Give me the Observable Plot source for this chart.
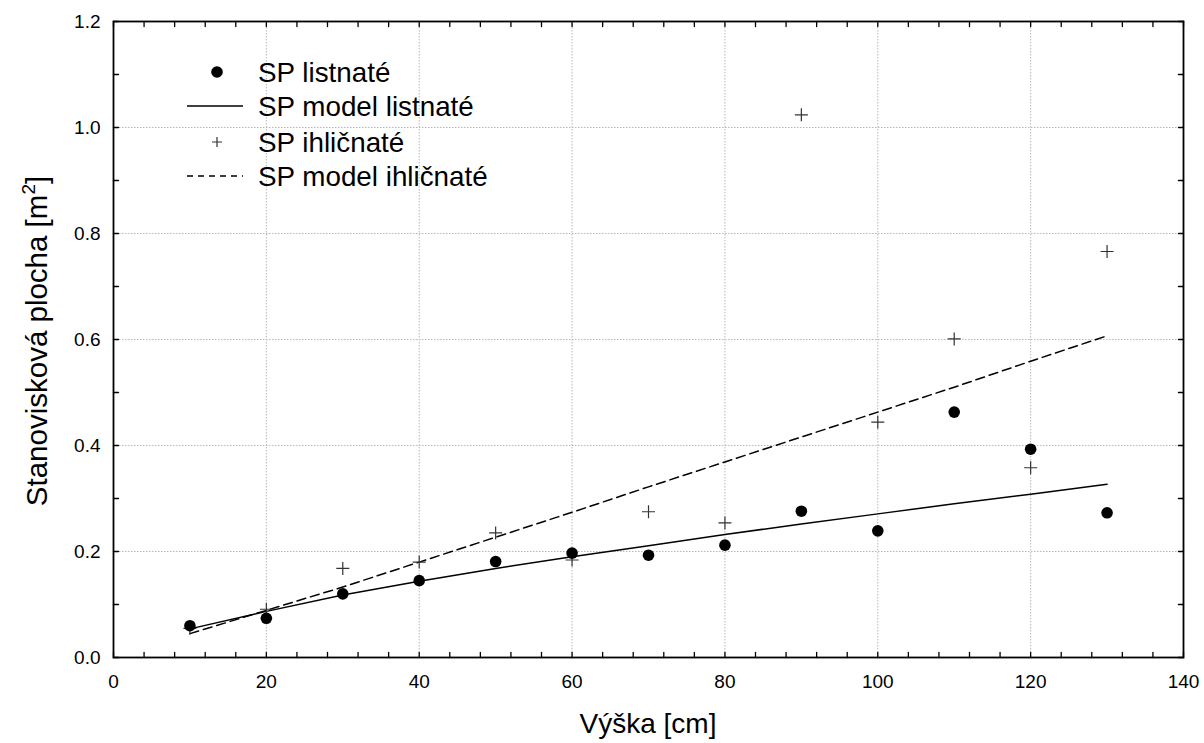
<!DOCTYPE html>
<html>
<head>
<meta charset="utf-8">
<script src="https://cdn.jsdelivr.net/npm/d3@7"></script>
<script src="https://cdn.jsdelivr.net/npm/@observablehq/plot@0.6"></script>
<style>
  html, body { margin: 0; padding: 0; background: #fff; }
  #chart { position: relative; width: 1204px; height: 743px; }
</style>
</head>
<body>
<div id="chart"></div>
<script>
// ---- data ----
const heights = [10, 20, 30, 40, 50, 60, 70, 80, 90, 100, 110, 120, 130];
const spListnate       = [0.060, 0.074, 0.120, 0.145, 0.181, 0.197, 0.193, 0.212, 0.276, 0.239, 0.463, 0.393, 0.273];
const spModelListnate  = [0.054, 0.087, 0.118, 0.144, 0.168, 0.190, 0.211, 0.232, 0.252, 0.271, 0.290, 0.308, 0.327];
const spIhlicnate      = [0.055, 0.091, 0.168, 0.180, 0.235, 0.184, 0.275, 0.254, 1.024, 0.444, 0.601, 0.358, 0.766];
const spModelIhlicnate = [0.045, 0.089, 0.133, 0.180, 0.227, 0.274, 0.322, 0.369, 0.416, 0.463, 0.510, 0.559, 0.607];

const xTicks = [0, 20, 40, 60, 80, 100, 120, 140];
const yTicks = [0, 0.2, 0.4, 0.6, 0.8, 1.0, 1.2];
const xGrid = [20, 40, 60, 80, 100, 120];
const yGrid = [0.2, 0.4, 0.6, 0.8, 1.0];
const xMinorTicks = d3.range(0, 141, 4);
const yMinorTicks = d3.range(0, 13).map(i => i / 10);

const legendLabels = ["SP listnaté", "SP model listnaté", "SP ihličnaté", "SP model ihličnaté"];
const xLabel = "Výška [cm]";
const yLabelMain = "Stanovisková plocha [m";
const yLabelSup = "2";
const yLabelEnd = "]";

// ---- tables ----
const rows = (arr) => heights.map((h, i) => ({h, v: arr[i]}));
const dotsL = rows(spListnate);
const modelL = rows(spModelListnate);
const crossI = rows(spIhlicnate);
const modelI = rows(spModelIhlicnate);

const crossSymbol = {
  draw(context, size) {
    const r = Math.sqrt(size / Math.PI);
    context.moveTo(-r, 0); context.lineTo(r, 0);
    context.moveTo(0, -r); context.lineTo(0, r);
  }
};
const tickShape = {
  draw(context, l) { context.moveTo(0, 0); context.lineTo(0, -l); }
};

const FONT = "Arial, 'Liberation Sans', Helvetica, sans-serif";

const chart = Plot.plot({
  width: 1204,
  height: 743,
  marginLeft: 113,
  marginRight: 21,
  marginTop: 21,
  marginBottom: 86,
  style: {fontFamily: FONT, fontSize: "19px", color: "#000", background: "#fff"},
  x: {domain: [0, 140], label: null},
  y: {domain: [0, 1.2], label: null},
  marks: [
    Plot.gridX(xGrid, {stroke: "#b8b8b8", strokeOpacity: 1, strokeDasharray: "1.5,1.5", strokeWidth: 1}),
    Plot.gridY(yGrid, {stroke: "#b8b8b8", strokeOpacity: 1, strokeDasharray: "1.5,1.5", strokeWidth: 1}),
    Plot.axisX(xTicks, {anchor: "bottom", tickSize: 0, tickPadding: 17, fontSize: 19, fill: "#000"}),
    Plot.axisY(yTicks, {anchor: "left", tickSize: 0, tickPadding: 13, fontSize: 19, fill: "#000", tickFormat: d3.format(".1f")}),
    // inward ticks on all four sides
    Plot.vector(xMinorTicks, {x: d => d, frameAnchor: "bottom", length: 5, rotate: 0, anchor: "start", shape: tickShape, stroke: "#000", strokeWidth: 1.3}),
    Plot.vector(xMinorTicks, {x: d => d, frameAnchor: "top", length: 5, rotate: 180, anchor: "start", shape: tickShape, stroke: "#000", strokeWidth: 1.3}),
    Plot.vector(yMinorTicks, {y: d => d, frameAnchor: "left", length: 5, rotate: 90, anchor: "start", shape: tickShape, stroke: "#000", strokeWidth: 1.3}),
    Plot.vector(yMinorTicks, {y: d => d, frameAnchor: "right", length: 5, rotate: -90, anchor: "start", shape: tickShape, stroke: "#000", strokeWidth: 1.3}),
    Plot.line(modelI, {x: "h", y: "v", stroke: "#000", strokeWidth: 1.5, strokeDasharray: "9,5"}),
    Plot.line(modelL, {x: "h", y: "v", stroke: "#000", strokeWidth: 1.5}),
    Plot.dot(crossI, {x: "h", y: "v", r: 6.5, symbol: crossSymbol, stroke: "#333", strokeWidth: 1.2, fill: "none"}),
    Plot.dot(dotsL, {x: "h", y: "v", r: 5.8, fill: "#000", stroke: "none"}),
    Plot.frame({stroke: "#000", strokeWidth: 1.8})
  ]
});

document.getElementById("chart").appendChild(chart);

// ---- axis titles and legend ----
const svg = d3.select(chart);

svg.append("text")
  .attr("x", 648).attr("y", 733)
  .attr("text-anchor", "middle")
  .style("font-family", FONT).style("font-size", "28px").attr("fill", "#000")
  .text(xLabel);

const yl = svg.append("text")
  .attr("transform", "translate(47,341) rotate(-90)")
  .attr("text-anchor", "middle")
  .style("font-family", FONT).style("font-size", "29.5px").attr("fill", "#000");
yl.append("tspan").text(yLabelMain);
yl.append("tspan").attr("dy", -12).style("font-size", "19px").text(yLabelSup);
yl.append("tspan").attr("dy", 12).text(yLabelEnd);

const lg = svg.append("g").style("font-family", FONT).style("font-size", "27.8px").attr("text-anchor", "start");
const rowY = [72, 106, 142, 176];
legendLabels.forEach((label, i) => {
  const y = rowY[i];
  if (i === 0) {
    lg.append("circle").attr("cx", 217).attr("cy", y).attr("r", 5.8).attr("fill", "#000");
  } else if (i === 1) {
    lg.append("line").attr("x1", 187).attr("x2", 243).attr("y1", y).attr("y2", y).attr("stroke", "#000").attr("stroke-width", 1.5);
  } else if (i === 2) {
    lg.append("path").attr("d", `M${212},${y}H${222}M${217},${y - 5}V${y + 5}`).attr("stroke", "#333").attr("stroke-width", 1.2).attr("fill", "none");
  } else {
    lg.append("line").attr("x1", 187).attr("x2", 243).attr("y1", y).attr("y2", y).attr("stroke", "#000").attr("stroke-width", 1.3).attr("stroke-dasharray", "6,5");
  }
  lg.append("text").attr("x", 258).attr("y", y + 10).attr("text-anchor", "start").attr("fill", "#000").text(label);
});
</script>
</body>
</html>
